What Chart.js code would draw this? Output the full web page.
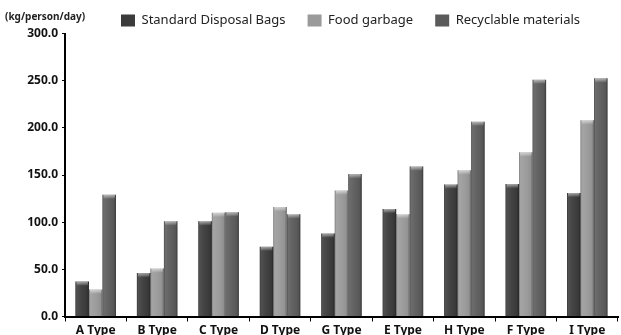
<!DOCTYPE html>
<html>
<head>
<meta charset="utf-8">
<script src="https://cdn.jsdelivr.net/npm/chart.js@4/dist/chart.umd.min.js"></script>
<style>
html,body{margin:0;padding:0;background:#fff;}
#wrap{width:621px;height:335px;position:relative;}
</style>
</head>
<body>
<div id="wrap"><canvas id="c" width="621" height="335"></canvas></div>
<script>
const categories = ["A Type","B Type","C Type","D Type","G Type","E Type","H Type","F Type","I Type"];
const standardBags = [37, 46, 101, 74, 88, 114, 140, 140.5, 131];
const foodGarbage = [28.5, 51, 110, 116, 133.5, 108.5, 155, 174, 208];
const recyclables = [129, 101, 110.5, 108.5, 151, 159, 206.5, 251, 252.5];
const seriesNames = ["Standard Disposal Bags","Food garbage","Recyclable materials"];
const seriesColors = ["#3b3b3b","#9a9a9a","#5b5b5b"];
const yTicks = [0, 50, 100, 150, 200, 250, 300];
const unitLabel = "(kg/person/day)";

const FONT = "'Noto Sans', 'DejaVu Sans', sans-serif";

const shadePlugin = {
  id: 'shade',
  beforeLayout(chart) {
    const lg = chart.legend;
    if (lg && !lg._patched) {
      const orig = lg.fit;
      lg.fit = function () { orig.apply(this, arguments); this.height = this.height - 3.5; };
      lg._patched = true;
    }
  },
  afterDatasetsDraw(chart) {
    const ctx = chart.ctx;
    chart.data.datasets.forEach((ds, i) => {
      const meta = chart.getDatasetMeta(i);
      meta.data.forEach(el => {
        const w = el.width, l = el.x - w / 2, top = el.y, h = el.base - el.y;
        const g = ctx.createLinearGradient(l, 0, l + w, 0);
        g.addColorStop(0, 'rgba(0,0,0,0.30)');
        g.addColorStop(0.12, 'rgba(255,255,255,0.10)');
        g.addColorStop(0.45, 'rgba(255,255,255,0.04)');
        g.addColorStop(0.85, 'rgba(0,0,0,0.05)');
        g.addColorStop(1, 'rgba(0,0,0,0.35)');
        ctx.save();
        ctx.fillStyle = g;
        ctx.fillRect(l, top, w, h);
        const cg = ctx.createLinearGradient(0, top, 0, top + 4);
        cg.addColorStop(0, 'rgba(255,255,255,0.55)');
        cg.addColorStop(1, 'rgba(255,255,255,0.05)');
        ctx.fillStyle = cg;
        ctx.fillRect(l + 1, top, w - 2, 4);
        ctx.restore();
      });
    });
  },
  afterLayout(chart) {
    if (chart.legend) { chart.legend.left += 9; chart.legend.right += 9; }
  },
  afterDraw(chart) {
    const ctx = chart.ctx;
    ctx.save();
    ctx.font = "bold 10px " + FONT;
    ctx.fillStyle = "#222";
    ctx.textBaseline = "middle";
    ctx.textAlign = "left";
    ctx.fillText(unitLabel, 5, 17);
    ctx.restore();
  }
};

new Chart(document.getElementById('c'), {
  type: 'bar',
  data: {
    labels: categories,
    datasets: [
      { label: seriesNames[0], data: standardBags, backgroundColor: seriesColors[0] },
      { label: seriesNames[1], data: foodGarbage, backgroundColor: seriesColors[1] },
      { label: seriesNames[2], data: recyclables, backgroundColor: seriesColors[2] }
    ]
  },
  options: {
    responsive: false,
    animation: false,
    devicePixelRatio: 1,
    layout: { padding: { left: 0, right: 3, top: -8, bottom: 0 } },
    datasets: { bar: { categoryPercentage: 0.66, barPercentage: 1.0, borderWidth: 0 } },
    plugins: {
      legend: {
        position: 'top',
        fullSize: false,
        labels: {
          font: { family: FONT, size: 13 },
          color: '#222',
          boxWidth: 14,
          boxHeight: 12,
          padding: 22
        }
      },
      tooltip: { enabled: false }
    },
    scales: {
      x: {
        grid: { offset: true, drawOnChartArea: false, tickLength: 5, color: '#000', lineWidth: 1 },
        border: { color: '#000', width: 2 },
        ticks: { font: { family: FONT, size: 12, weight: 'bold' }, color: '#111', padding: 2, maxRotation: 0, autoSkip: false },
        afterFit(scale) { scale.height = 18.5; }
      },
      y: {
        min: 0, max: 300,
        afterBuildTicks(scale) { scale.ticks = yTicks.map(v => ({ value: v })); },
        grid: { drawOnChartArea: false, tickLength: 3, color: '#000', lineWidth: 1 },
        border: { color: '#000', width: 2 },
        ticks: {
          font: { family: FONT, size: 12, weight: 'bold' }, color: '#111', padding: 4,
          callback: v => Number(v).toFixed(1)
        },
        afterFit(scale) { scale.width = 65; }
      }
    }
  },
  plugins: [shadePlugin]
});
</script>
</body>
</html>
